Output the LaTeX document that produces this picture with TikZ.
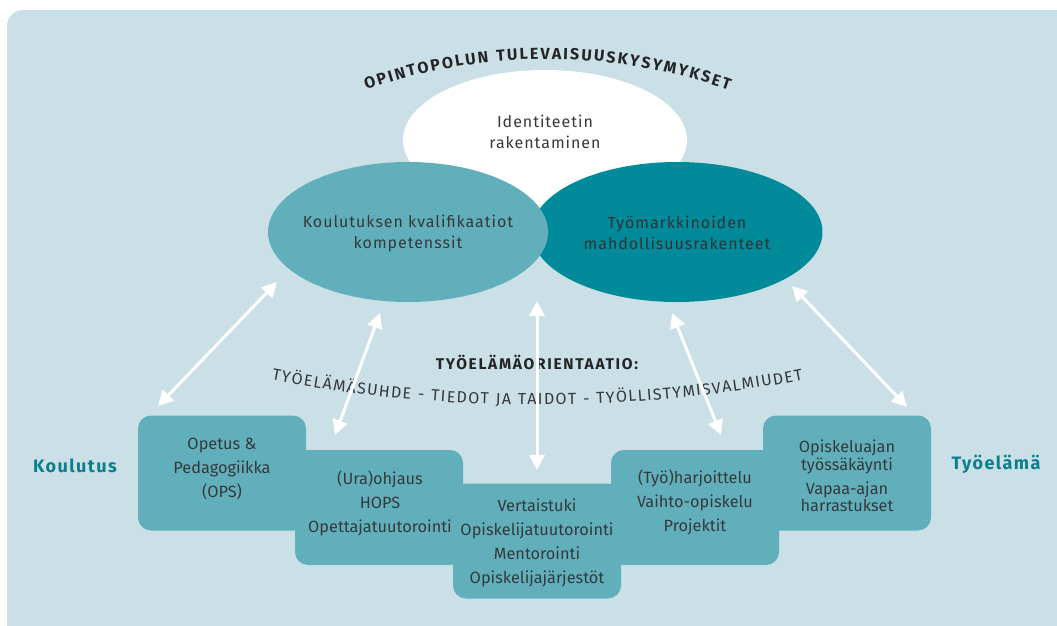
\documentclass[tikz,border=0pt]{standalone}
\usepackage{fontspec}
\setmainfont{Fira Sans}
\newfontfamily\spfont[LetterSpace=6]{Fira Sans}
\newfontfamily\widefont[LetterSpace=8]{Fira Sans}
\newfontfamily\widerfont[LetterSpace=11]{Fira Sans}
\usetikzlibrary{arrows.meta,decorations.text,shapes.geometric}
\definecolor{bgblue}{HTML}{CAE0E6}
\definecolor{boxblue}{HTML}{62AFBC}
\definecolor{darkteal}{HTML}{008A9A}
\definecolor{labelteal}{HTML}{0B7F8E}
\definecolor{txtgray}{HTML}{34393B}
\definecolor{titlegray}{HTML}{222426}
\begin{document}
\begin{tikzpicture}[x=1pt,y=1pt,
  boxshape/.style={fill=boxblue, rounded corners=13pt, minimum width=168pt, minimum height=115pt, inner sep=0pt, draw=none},
  boxtext/.style={text=txtgray, align=center, inner sep=0pt, font=\fontsize{16.3}{24}\selectfont},
  ellshape/.style={ellipse, inner sep=0pt, draw=none},
  elltext/.style={text=txtgray, align=center, inner sep=0pt, font=\spfont\fontsize{16}{21}\selectfont},
  sidelabel/.style={text=labelteal, inner sep=0pt, font=\widefont\bfseries\fontsize{18}{20}\selectfont},
  warrow/.style={draw=white, line width=3pt, {Triangle[length=15pt,width=15pt]}-{Triangle[length=15pt,width=15pt]}}
]
\useasboundingbox (0,0) rectangle (1057,-626);
\fill[white] (0,0) rectangle (1057,-626);
\fill[bgblue, rounded corners=16pt] (7,-10) rectangle (1090,-660);

% ellipses
\node[ellshape, fill=white, minimum width=284pt, minimum height=140pt] (wh) at (545,-140) {};
\node[ellshape, fill=darkteal, minimum width=291pt, minimum height=140pt] (ri) at (677,-232) {};
\node[ellshape, fill=boxblue, minimum width=280pt, minimum height=140pt] (le) at (408,-232) {};

\node[elltext] (idt) at (545,-132) {Identiteetin\\rakentaminen};
\node[elltext] (let) at (408,-233) {Koulutuksen kvalifikaatiot\\kompetenssit};
\node[elltext, text=txtgray!90!black] (rit) at (677,-233) {Työmarkkinoiden\\mahdollisuusrakenteet};

% curved title
\path[decorate, decoration={text along path, text color=titlegray,
  text={|\bfseries\fontsize{16}{16}\selectfont|OPINTOPOLUN TULEVAISUUSKYSYMYKSET},
  text align={fit to path}}]
  (547,-603) ++(109.4:544) arc[start angle=109.4, end angle=70.5, radius=544];

% middle texts
\node[text=titlegray, inner sep=0pt, font=\widerfont\bfseries\fontsize{15.5}{16}\selectfont] (orient) at (537,-362) {TYÖELÄMÄORIENTAATIO:};
\path[decorate, decoration={text along path, text color=txtgray,
  text={|\fontsize{16}{16}\selectfont|TYÖELÄMÄSUHDE - TIEDOT JA TAIDOT - TYÖLLISTYMISVALMIUDET},
  text align={fit to path}}]
  (537,1012) ++(259.2:1417) arc[start angle=259.2, end angle=280.8, radius=1417];

% boxes
\node[boxshape] (b1) at (222,-473) {};
\node[boxshape] (b2) at (379,-507.5) {};
\node[boxshape] (b3) at (537,-541) {};
\node[boxshape] (b4) at (695,-507.5) {};
\node[boxshape] (b5) at (847,-473) {};

\node[boxtext] (t1) at (222,-469) {Opetus \&\\Pedagogiikka\\(OPS)};
\node[boxtext] (t2) at (380,-503) {(Ura)ohjaus\\HOPS\\Opettajatuutorointi};
\node[boxtext] (t3) at (537,-543) {Vertaistuki\\Opiskelijatuutorointi\\Mentorointi\\Opiskelijajärjestöt};
\node[boxtext] (t4) at (695,-502) {(Työ)harjoittelu\\Vaihto-opiskelu\\Projektit};
\node[boxtext, font=\fontsize{16.3}{17.5}\selectfont] (t5) at (847,-476) {Opiskeluajan\\työssäkäynti\\[6.5pt]Vapaa-ajan\\harrastukset};

\node[sidelabel] (kou) at (75,-466) {Koulutus};
\node[sidelabel] (tyo) at (996,-464) {Työelämä};

% arrows
\coordinate (a1s) at (158,-406); \coordinate (a1e) at (277,-282);
\coordinate (a2s) at (335,-435); \coordinate (a2e) at (380,-313);
\coordinate (a3s) at (537,-470); \coordinate (a3e) at (537,-301);
\coordinate (a4s) at (721,-435); \coordinate (a4e) at (672,-313);
\coordinate (a5s) at (907,-407); \coordinate (a5e) at (792,-286);
\draw[warrow] (a1s) -- (a1e);
\draw[warrow] (a2s) -- (a2e);
\draw[warrow] (a3s) -- (a3e);
\draw[warrow] (a4s) -- (a4e);
\draw[warrow] (a5s) -- (a5e);
\end{tikzpicture}
\end{document}
